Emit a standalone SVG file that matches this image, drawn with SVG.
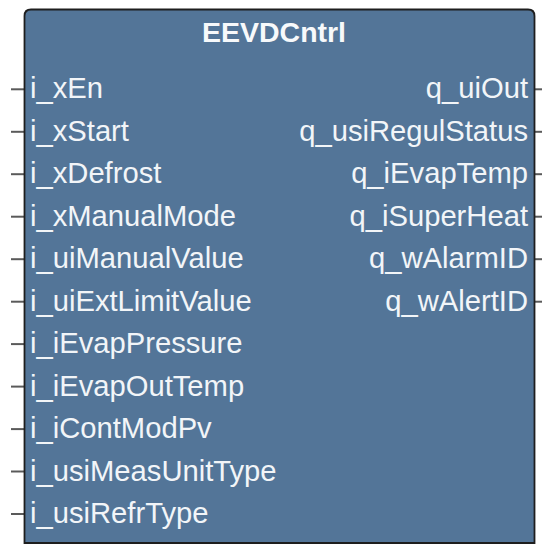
<svg xmlns="http://www.w3.org/2000/svg" width="542" height="546" viewBox="0 0 542 546">
<style>
.pin{stroke:#5a5a5a;stroke-width:2}
.t{font-family:"Liberation Sans",Arial,sans-serif;font-size:29.2px;fill:#f2f5f8}
.r{text-anchor:end}
.title{font-family:"Liberation Sans",Arial,sans-serif;font-size:28.5px;font-weight:bold;fill:#f7f9fb;text-anchor:middle}
</style>
<rect width="542" height="546" fill="#ffffff"/>
<g id="connectors">
<line class="pin" x1="11" y1="89.3" x2="24" y2="89.3"/>
<line class="pin" x1="11" y1="131.8" x2="24" y2="131.8"/>
<line class="pin" x1="11" y1="174.2" x2="24" y2="174.2"/>
<line class="pin" x1="11" y1="216.7" x2="24" y2="216.7"/>
<line class="pin" x1="11" y1="259.2" x2="24" y2="259.2"/>
<line class="pin" x1="11" y1="301.7" x2="24" y2="301.7"/>
<line class="pin" x1="11" y1="344.1" x2="24" y2="344.1"/>
<line class="pin" x1="11" y1="386.6" x2="24" y2="386.6"/>
<line class="pin" x1="11" y1="429.1" x2="24" y2="429.1"/>
<line class="pin" x1="11" y1="471.5" x2="24" y2="471.5"/>
<line class="pin" x1="11" y1="514" x2="24" y2="514"/>
<line class="pin" x1="535" y1="89.3" x2="542" y2="89.3"/>
<line class="pin" x1="535" y1="131.8" x2="542" y2="131.8"/>
<line class="pin" x1="535" y1="174.2" x2="542" y2="174.2"/>
<line class="pin" x1="535" y1="216.7" x2="542" y2="216.7"/>
<line class="pin" x1="535" y1="259.2" x2="542" y2="259.2"/>
<line class="pin" x1="535" y1="301.7" x2="542" y2="301.7"/>
</g>
<g id="EEVDCntrl">
<path d="M24.5,543 L24.5,16 Q24.5,9.5 31,9.5 L528,9.5 Q534.5,9.5 534.5,16 L534.5,543 Z" fill="#537598" stroke="#1e1e1e" stroke-width="1.8"/>
<text class="title" x="274" y="42">EEVDCntrl</text>
<text class="t" x="30" y="98.3">i_xEn</text>
<text class="t" x="30" y="140.8">i_xStart</text>
<text class="t" x="30" y="183.2">i_xDefrost</text>
<text class="t" x="30" y="225.7">i_xManualMode</text>
<text class="t" x="30" y="268.2">i_uiManualValue</text>
<text class="t" x="30" y="310.7">i_uiExtLimitValue</text>
<text class="t" x="30" y="353.1">i_iEvapPressure</text>
<text class="t" x="30" y="395.6">i_iEvapOutTemp</text>
<text class="t" x="30" y="438.1">i_iContModPv</text>
<text class="t" x="30" y="480.5">i_usiMeasUnitType</text>
<text class="t" x="30" y="523">i_usiRefrType</text>
<text class="t r" x="528" y="98.3">q_uiOut</text>
<text class="t r" x="528" y="140.8">q_usiRegulStatus</text>
<text class="t r" x="528" y="183.2">q_iEvapTemp</text>
<text class="t r" x="528" y="225.7">q_iSuperHeat</text>
<text class="t r" x="528" y="268.2">q_wAlarmID</text>
<text class="t r" x="528" y="310.7">q_wAlertID</text>
</g>
</svg>
